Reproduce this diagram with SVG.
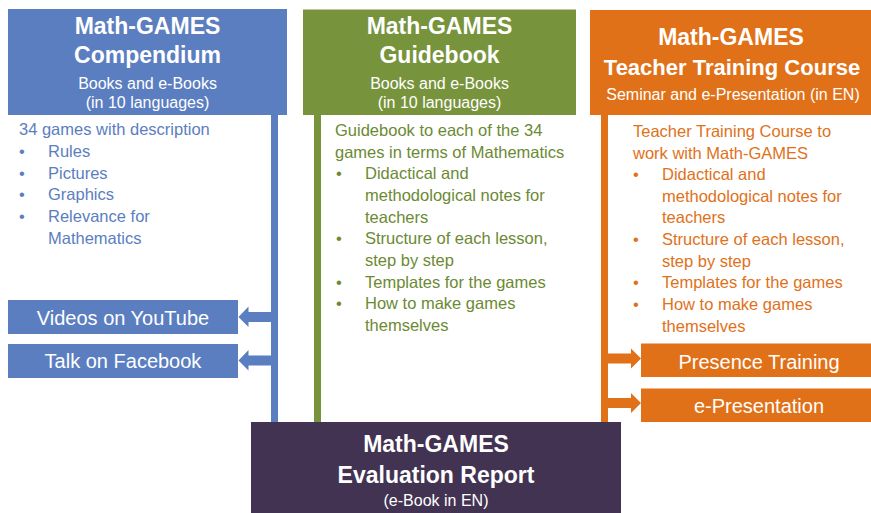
<svg xmlns="http://www.w3.org/2000/svg" width="871" height="513" viewBox="0 0 871 513">
<style>
text{font-family:"Liberation Sans",Arial,sans-serif}
.h{font-weight:bold;font-size:23px;fill:#fff;text-anchor:middle}
.s{font-size:16px;fill:#fff;text-anchor:middle}
.b{font-size:16.5px}
.w{font-size:20px;fill:#fff;text-anchor:middle}
.blue{fill:#5B7EC0}
.green{fill:#77933C}
.orange{fill:#E07119}
.purple{fill:#433352}
.tb{fill:#5B7EC0}
.tg{fill:#6B8A33}
.to{fill:#E07119}
</style>
<rect width="871" height="513" fill="#fff"/>
<g id="connectors">
<rect class="blue" x="271" y="115" width="7" height="307"/>
<rect class="green" x="314" y="115" width="7" height="307"/>
<rect class="orange" x="601" y="115" width="7" height="307"/>
<polygon class="blue" points="238.5,317 248.5,306.5 248.5,312 271,312 271,322 248.5,322 248.5,327"/>
<polygon class="blue" points="238.5,360.5 248.5,350 248.5,355.5 271,355.5 271,365.5 248.5,365.5 248.5,370.5"/>
<polygon class="orange" points="641,358.5 631,348.5 631,353.5 608,353.5 608,363.5 631,363.5 631,368.5"/>
<polygon class="orange" points="641,403 631,393 631,398 608,398 608,408 631,408 631,413"/>
</g>
<g id="compendium">
<rect class="blue" x="8" y="9" width="279" height="106"/>
<text class="h" x="147.5" y="34">Math-GAMES</text>
<text class="h" x="147.5" y="63">Compendium</text>
<text class="s" x="147.5" y="89">Books and e-Books</text>
<text class="s" x="147.5" y="108">(in 10 languages)</text>
<g class="b tb">
<text x="19" y="135">34 games with description</text>
<text x="19" y="157">•</text><text x="48" y="157">Rules</text>
<text x="19" y="178.5">•</text><text x="48" y="178.5">Pictures</text>
<text x="19" y="200">•</text><text x="48" y="200">Graphics</text>
<text x="19" y="222">•</text><text x="48" y="222">Relevance for</text>
<text x="48" y="243.5">Mathematics</text>
</g>
</g>
<g id="guidebook">
<rect class="green" x="303" y="9.5" width="273" height="105.5"/>
<text class="h" x="439.5" y="34">Math-GAMES</text>
<text class="h" x="439.5" y="63">Guidebook</text>
<text class="s" x="439.5" y="89">Books and e-Books</text>
<text class="s" x="439.5" y="108">(in 10 languages)</text>
<g class="b tg">
<text x="335" y="136">Guidebook to each of the 34</text>
<text x="335" y="158">games in terms of Mathematics</text>
<text x="336" y="179">•</text><text x="365" y="179">Didactical and</text>
<text x="365" y="201">methodological notes for</text>
<text x="365" y="222.5">teachers</text>
<text x="336" y="244">•</text><text x="365" y="244">Structure of each lesson,</text>
<text x="365" y="266">step by step</text>
<text x="336" y="287.5">•</text><text x="365" y="287.5">Templates for the games</text>
<text x="336" y="309">•</text><text x="365" y="309">How to make games</text>
<text x="365" y="331">themselves</text>
</g>
</g>
<g id="training">
<rect class="orange" x="590" y="10" width="281" height="105"/>
<text class="h" x="731" y="45">Math-GAMES</text>
<text class="h" x="732" y="75" style="font-size:22px">Teacher Training Course</text>
<text class="s" x="733" y="100">Seminar and e-Presentation (in EN)</text>
<g class="b to">
<text x="633" y="137">Teacher Training Course to</text>
<text x="633" y="158.5">work with Math-GAMES</text>
<text x="633" y="180">•</text><text x="662" y="180">Didactical and</text>
<text x="662" y="201.5">methodological notes for</text>
<text x="662" y="223">teachers</text>
<text x="633" y="245">•</text><text x="662" y="245">Structure of each lesson,</text>
<text x="662" y="266.5">step by step</text>
<text x="633" y="288">•</text><text x="662" y="288">Templates for the games</text>
<text x="633" y="310">•</text><text x="662" y="310">How to make games</text>
<text x="662" y="331.5">themselves</text>
</g>
</g>
<g id="youtube">
<rect class="blue" x="8" y="300" width="230" height="34"/>
<text class="w" x="123" y="324.5">Videos on YouTube</text>
</g>
<g id="facebook">
<rect class="blue" x="8" y="344" width="230" height="34"/>
<text class="w" x="123" y="368">Talk on Facebook</text>
</g>
<g id="presence">
<rect class="orange" x="641" y="343.5" width="230" height="33.5"/>
<text class="w" x="759" y="368.5">Presence Training</text>
</g>
<g id="epresentation">
<rect class="orange" x="641" y="388.5" width="230" height="33.5"/>
<text class="w" x="759" y="413">e-Presentation</text>
</g>
<g id="evaluation">
<rect class="purple" x="251" y="422" width="370" height="91"/>
<text class="h" x="436" y="452">Math-GAMES</text>
<text class="h" x="436" y="483">Evaluation Report</text>
<text class="s" x="436" y="506">(e-Book in EN)</text>
</g>
</svg>
